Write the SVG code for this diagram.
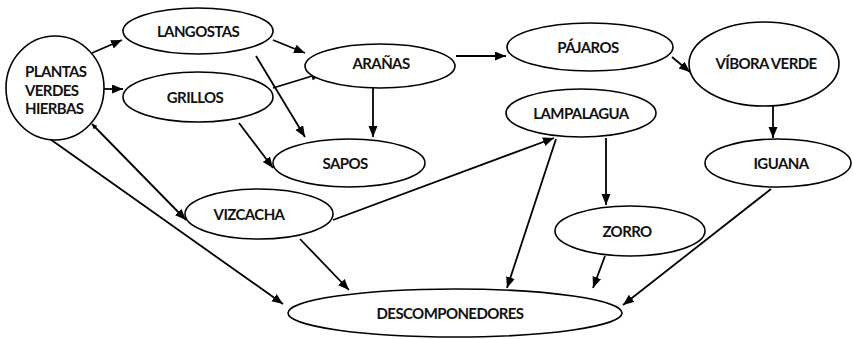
<svg xmlns="http://www.w3.org/2000/svg" width="853" height="339" viewBox="0 0 853 339">
<defs>
<style>
.n ellipse{fill:#fff;stroke:#000;stroke-width:1.6}
.n text{font-family:Lato,"Open Sans","Liberation Sans",sans-serif;font-weight:700;font-size:15px;letter-spacing:-0.6px;fill:#111;text-anchor:middle}
.e line{stroke:#000;stroke-width:1.8;marker-end:url(#ah)}
</style>
<marker id="ah" markerUnits="userSpaceOnUse" markerWidth="12" markerHeight="10" refX="11" refY="4.5" orient="auto-start-reverse" viewBox="0 0 12 10">
<path d="M0,0 L11,4.5 L0,9 z" fill="#000"/>
</marker>
<marker id="ahs" markerUnits="userSpaceOnUse" markerWidth="6" markerHeight="6" refX="5" refY="2.5" orient="auto-start-reverse" viewBox="0 0 6 6">
<path d="M0,0 L5,2.5 L0,5 z" fill="#000"/>
</marker>
</defs>
<rect width="853" height="339" fill="#fff"/>
<g class="e" id="connectors">
<line x1="92" y1="53" x2="122" y2="40"/>
<line x1="104" y1="89" x2="123" y2="89"/>
<line x1="273" y1="40" x2="305" y2="53"/>
<line x1="256" y1="56" x2="305" y2="137"/>
<line x1="273" y1="88" x2="322" y2="73"/>
<line x1="373" y1="88" x2="373" y2="137"/>
<line x1="239" y1="123" x2="273" y2="168"/>
<line x1="92" y1="124" x2="186" y2="220" style="marker-start:url(#ahs)"/>
<line x1="50" y1="139" x2="283" y2="304"/>
<line x1="333" y1="220" x2="554" y2="138"/>
<line x1="556" y1="139" x2="507" y2="288"/>
<line x1="606" y1="138" x2="606" y2="205"/>
<line x1="672" y1="57" x2="690" y2="72"/>
<line x1="456" y1="56" x2="506" y2="56"/>
<line x1="773" y1="106" x2="773" y2="138"/>
<line x1="771" y1="189" x2="623" y2="305"/>
<line x1="605" y1="256" x2="593" y2="288"/>
<line x1="300" y1="239" x2="349" y2="290"/>
</g>
<g class="n" id="plantas"><ellipse cx="55" cy="88" rx="49" ry="52"/>
<text x="25" y="77" style="text-anchor:start">PLANTAS</text>
<text x="25" y="96" style="text-anchor:start">VERDES</text>
<text x="25" y="114" style="text-anchor:start">HIERBAS</text></g>
<g class="n" id="langostas"><ellipse cx="198" cy="31" rx="75" ry="23"/><text x="198" y="37">LANGOSTAS</text></g>
<g class="n" id="grillos"><ellipse cx="198" cy="97" rx="75" ry="25"/><text x="195" y="103">GRILLOS</text></g>
<g class="n" id="aranas"><ellipse cx="380" cy="66" rx="75" ry="22"/><text x="381" y="69">ARAÑAS</text></g>
<g class="n" id="sapos"><ellipse cx="349" cy="163" rx="76" ry="24"/><text x="345" y="169">SAPOS</text></g>
<g class="n" id="pajaros"><ellipse cx="590" cy="47" rx="83" ry="24"/><text x="588" y="53">PÁJAROS</text></g>
<g class="n" id="vibora"><ellipse cx="764" cy="64" rx="75" ry="42"/><text x="766" y="69">VÍBORA VERDE</text></g>
<g class="n" id="lampalagua"><ellipse cx="581" cy="113" rx="75" ry="24"/><text x="581" y="119">LAMPALAGUA</text></g>
<g class="n" id="iguana"><ellipse cx="778" cy="163" rx="73" ry="24"/><text x="781" y="169">IGUANA</text></g>
<g class="n" id="vizcacha"><ellipse cx="259" cy="214" rx="74" ry="25"/><text x="249" y="220">VIZCACHA</text></g>
<g class="n" id="zorro"><ellipse cx="630" cy="231" rx="75" ry="25"/><text x="627" y="237">ZORRO</text></g>
<g class="n" id="descomponedores"><ellipse cx="455" cy="313" rx="167" ry="24"/><text x="450" y="319">DESCOMPONEDORES</text></g>
</svg>
